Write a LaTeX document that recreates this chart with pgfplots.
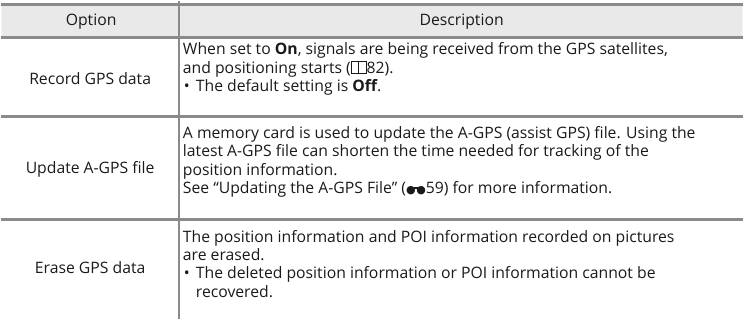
\documentclass[border=0pt]{standalone}
\usepackage{pgfplots}
\pgfplotsset{compat=1.18}
\usepackage{fontspec}
\setmainfont{Open Sans}
\newfontfamily\dejavu{DejaVu Sans}
\definecolor{tline}{HTML}{8A8A8A}
\definecolor{hfill}{HTML}{E9E9E9}
\definecolor{txt}{HTML}{1A1A1A}
\newcommand{\desc}{\fontsize{15.8}{18}\selectfont\color{txt}}
\newcommand{\book}{{\fboxsep=0pt\fboxrule=0.9pt\raisebox{0.05em}{\fbox{\rule{0pt}{0.68em}\hspace{0.42em}}\kern-0.9pt\fbox{\rule{0pt}{0.68em}\hspace{0.42em}}}}}
\newcommand{\bino}{{\dejavu\fontsize{11}{11}\selectfont ●\kern-0.18em\rule[0.42em]{0.42em}{0.16em}\kern-0.18em●}}
\begin{document}
\begin{tikzpicture}
\begin{axis}[width=744pt,height=324pt,scale only axis,
  xmin=0,xmax=744,ymin=0,ymax=324,y dir=reverse,hide axis,clip=false]
% header band
\addplot[fill=hfill,draw=none] coordinates {(0,9)(744,9)(744,41)(0,41)(0,9)};
% horizontal rules
\addplot[tline,line width=3pt] coordinates {(0,8.5)(744,8.5)};
\addplot[tline,line width=3pt] coordinates {(0,41.5)(744,41.5)};
\addplot[tline,line width=3pt] coordinates {(0,121)(744,121)};
\addplot[tline,line width=3pt] coordinates {(0,224.5)(744,224.5)};
% vertical rule
\addplot[tline,line width=2.2pt] coordinates {(178.5,5)(178.5,324)};
% header
\node[anchor=base,font=\desc] at (axis cs:90,30) {Option};
\node[anchor=base,font=\desc] at (axis cs:462,30) {Description};
% left column
\node[anchor=base,font=\desc] at (axis cs:89,88.5) {Record GPS data};
\node[anchor=base,font=\desc] at (axis cs:89,178.5) {Update A-GPS file};
\node[anchor=base,font=\desc] at (axis cs:89,278) {Erase GPS data};
% row 1
\node[anchor=base west,font=\desc,inner sep=0pt] at (axis cs:182,59) {When set to \textbf{On}, signals are being received from the GPS satellites,};
\node[anchor=base west,font=\desc,inner sep=0pt] at (axis cs:182,77.5) {and positioning starts (\book82).};
\node[anchor=base west,font=\desc,inner sep=0pt] at (axis cs:183,96) {•};
\node[anchor=base west,font=\desc,inner sep=0pt] at (axis cs:195,96) {The default setting is \textbf{Off}.};
% row 2
\node[anchor=base west,font=\desc,inner sep=0pt] at (axis cs:182,143) {A memory card is used to update the A-GPS (assist GPS) file. Using the};
\node[anchor=base west,font=\desc,inner sep=0pt] at (axis cs:182,161.5) {latest A-GPS file can shorten the time needed for tracking of the};
\node[anchor=base west,font=\desc,inner sep=0pt] at (axis cs:182,180) {position information.};
\node[anchor=base west,font=\desc,inner sep=0pt] at (axis cs:182,198.5) {See “Updating the A-GPS File” (\bino59) for more information.};
% row 3
\node[anchor=base west,font=\desc,inner sep=0pt] at (axis cs:182,247) {The position information and POI information recorded on pictures};
\node[anchor=base west,font=\desc,inner sep=0pt] at (axis cs:182,265.5) {are erased.};
\node[anchor=base west,font=\desc,inner sep=0pt] at (axis cs:183,284) {•};
\node[anchor=base west,font=\desc,inner sep=0pt] at (axis cs:195,284) {The deleted position information or POI information cannot be};
\node[anchor=base west,font=\desc,inner sep=0pt] at (axis cs:195,302.5) {recovered.};
\end{axis}
\end{tikzpicture}
\end{document}
